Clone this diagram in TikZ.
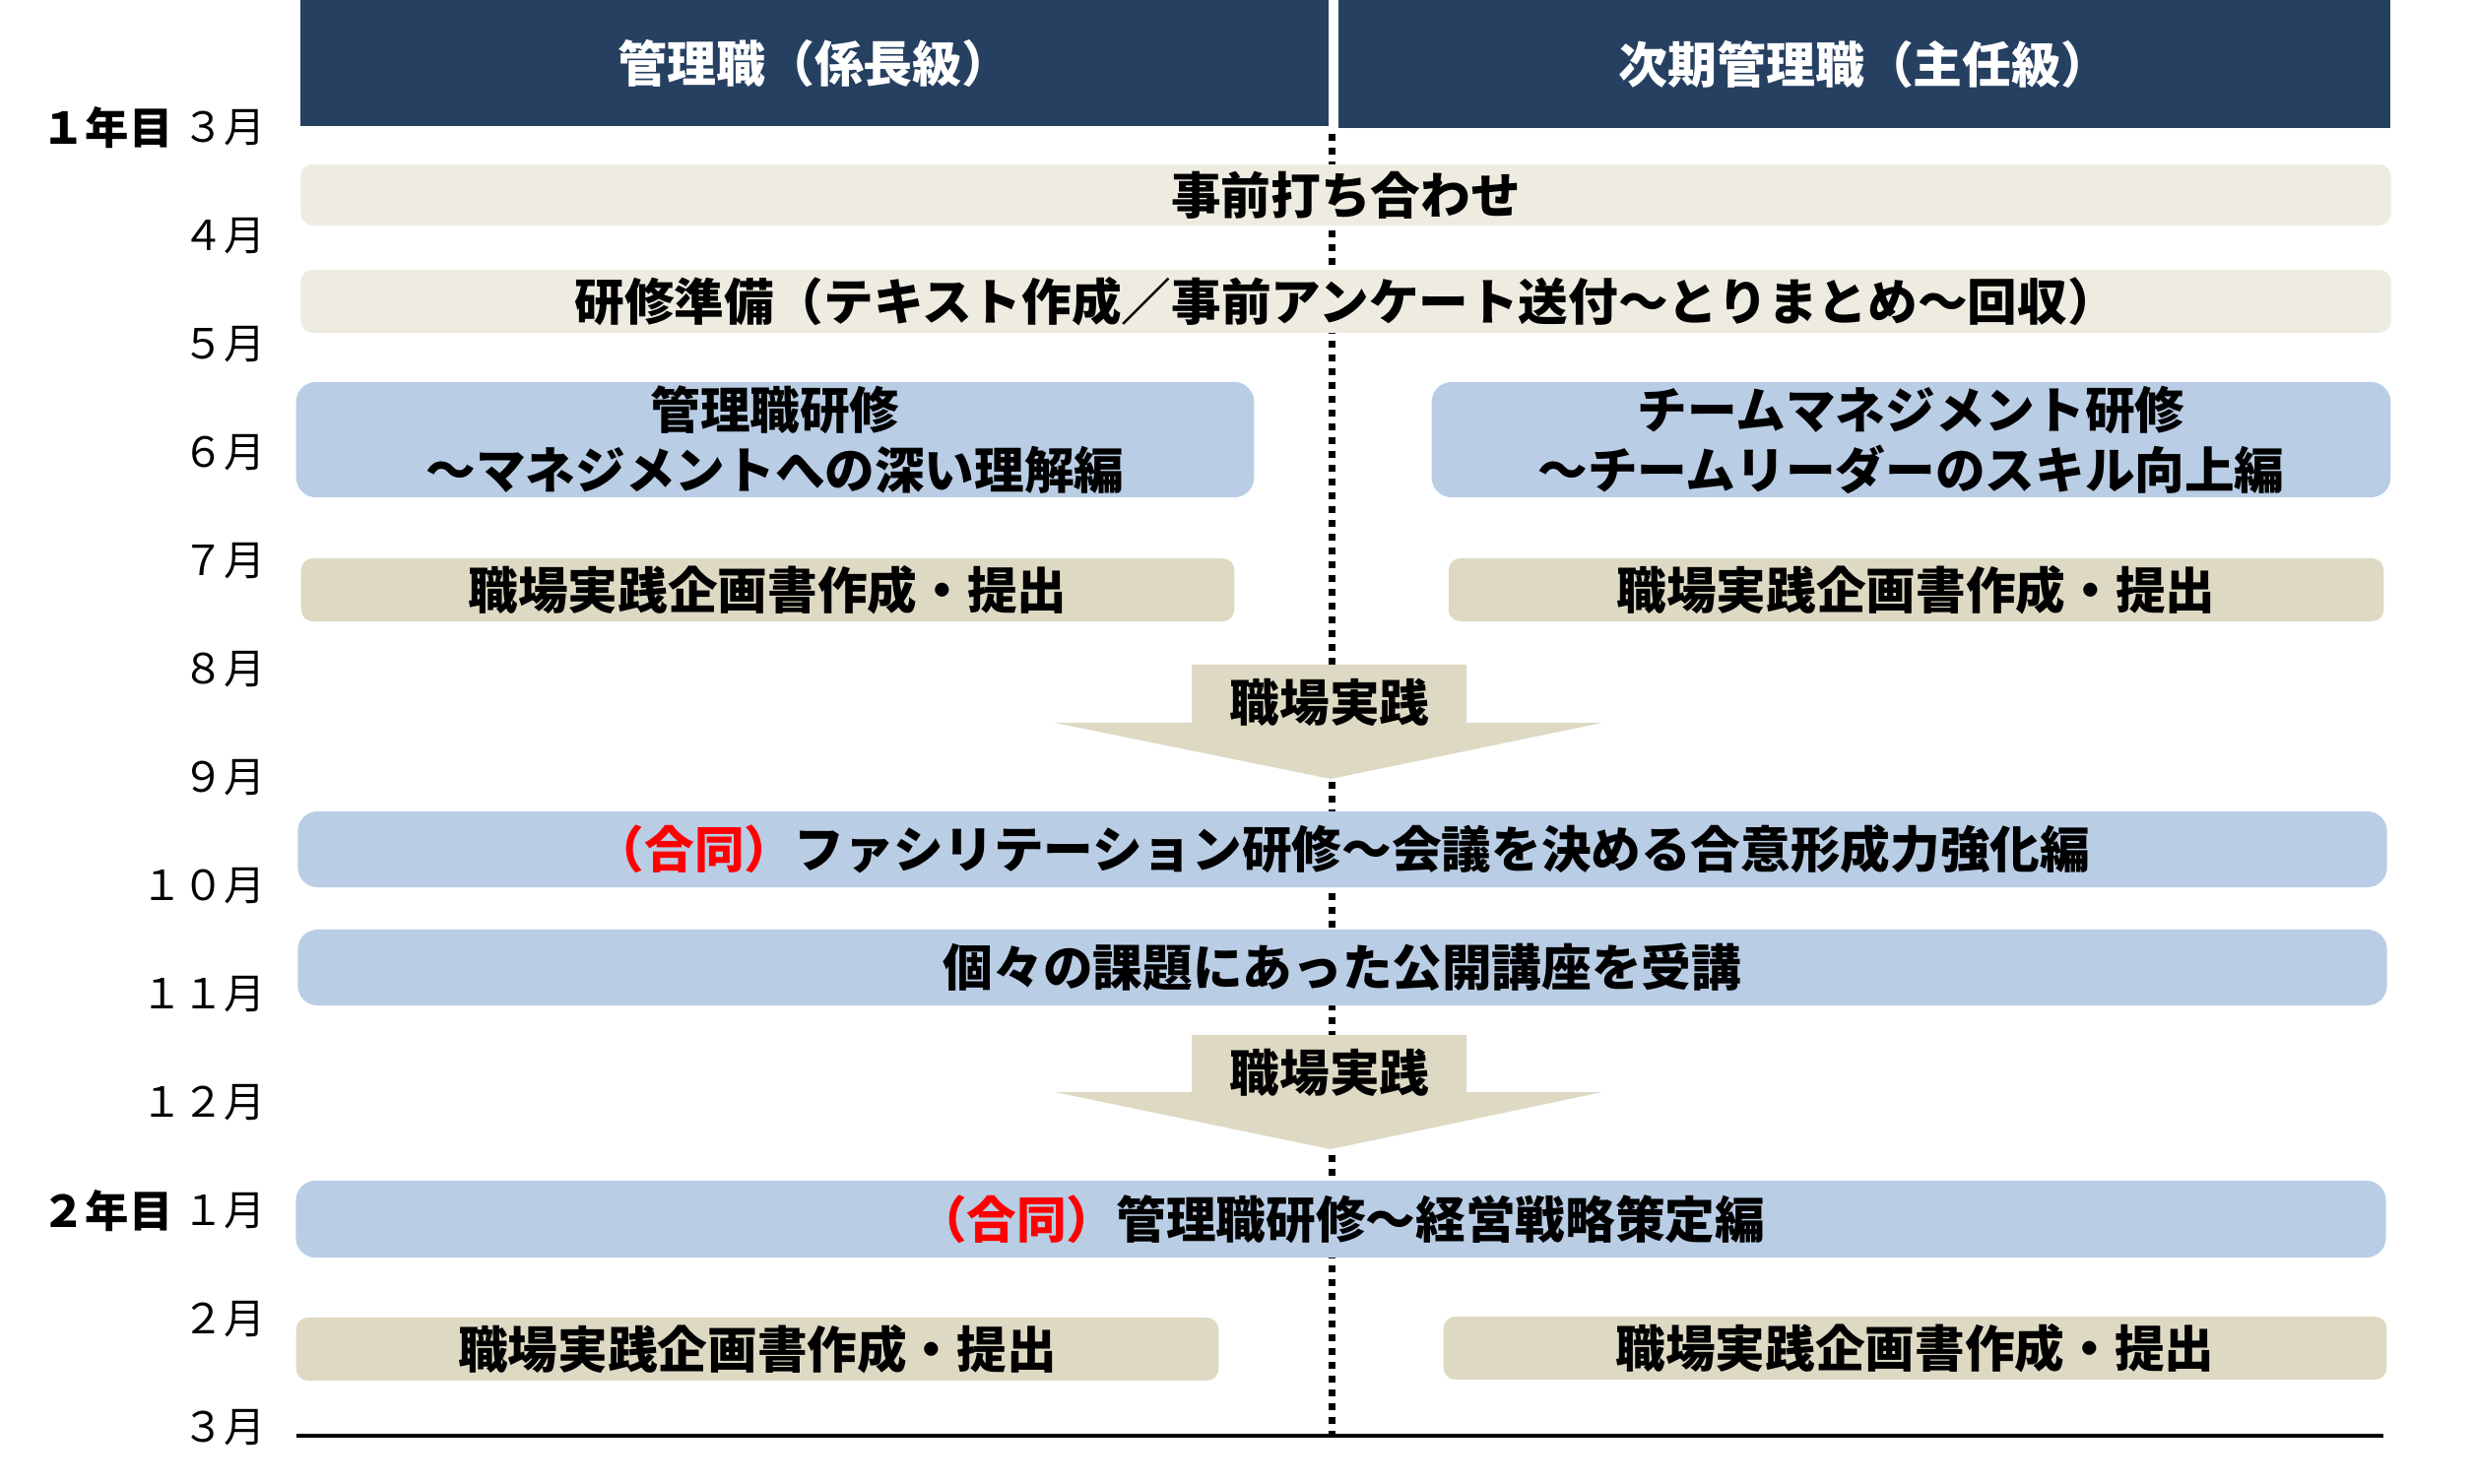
\documentclass[tikz,border=0pt]{standalone}
\usepackage{fontspec}
\setmainfont{Noto Sans CJK JP}
\definecolor{hdr}{HTML}{264061}
\definecolor{bgA}{HTML}{EEECE1}
\definecolor{tanC}{HTML}{DDD9C3}
\definecolor{blueC}{HTML}{B9CDE5}
\begin{document}
\begin{tikzpicture}[x=0.01cm,y=-0.01cm,
  every node/.style={inner sep=0pt, outer sep=0pt},
  bartxt/.style={font=\fontsize{14.4}{17.3}\selectfont\bfseries, text=black, align=center},
  hdrbox/.style={fill=hdr, text=white, font=\fontsize{14.2}{17}\selectfont\bfseries},
  lightbar/.style={bartxt, fill=bgA, rounded corners=0.12cm},
  tanbar/.style={bartxt, fill=tanC, rounded corners=0.12cm},
  bluebar/.style={bartxt, fill=blueC, rounded corners=0.2cm},
  monthtxt/.style={font=\fontsize{12}{14}\selectfont, anchor=east},
  yeartxt/.style={font=\fontsize{12.6}{14}\selectfont\bfseries, anchor=east},
  divider/.style={line width=0.07cm, dash pattern=on 0.07cm off 0.07cm},
  redtag/.style={text=red}
]
\useasboundingbox (0,0) rectangle (2513,1507);

% divider and bottom line
\coordinate (dtop) at (1352,136);
\coordinate (dbot) at (1352,1462);
\draw[divider] (dtop) -- (dbot);
\coordinate (bl) at (301,1458);
\coordinate (br) at (2420,1458);
\draw[line width=1pt] (bl) -- (br);

% headers
\node[hdrbox, minimum width=10.44cm, minimum height=1.28cm] (hL) at (827,64) {管理職（係長級）};
\node[hdrbox, minimum width=10.68cm, minimum height=1.30cm] (hR) at (1893,65) {次期管理職（主任級）};

% bars
\node[lightbar, minimum width=21.21cm, minimum height=0.62cm] (pre) at (1366.5,198) {事前打ち合わせ};
\node[lightbar, minimum width=21.21cm, minimum height=0.64cm] (prep) at (1366.5,306) {研修準備（テキスト作成／事前アンケート送付～とりまとめ～回収）};
\node[bluebar, minimum width=9.72cm, minimum height=1.17cm] (mgr) at (787,446.5) {管理職研修\\～マネジメントへの深い理解編};
\node[bluebar, minimum width=9.73cm, minimum height=1.17cm] (team) at (1940.5,446.5) {チームマネジメント研修\\～チームリーダーのスキル向上編};
\node[tanbar, minimum width=9.47cm, minimum height=0.64cm] (p1L) at (779.5,599) {職場実践企画書作成・提出};
\node[tanbar, minimum width=9.49cm, minimum height=0.64cm] (p1R) at (1945.5,599) {職場実践企画書作成・提出};

% arrow 1
\fill[tanC] (1210,675) -- (1489,675) -- (1489,734) -- (1627,734) -- (1351,791) -- (1071,734) -- (1210,734) -- cycle;
\node[bartxt] (a1) at (1350,713) {職場実践};

\node[bluebar, minimum width=21.2cm, minimum height=0.77cm] (fac) at (1363,862.5) {{\color{red}（合同）}ファシリテーション研修～会議を決める合意形成力強化編};
\node[bluebar, minimum width=21.2cm, minimum height=0.77cm] (ind) at (1363,982.5) {個々の課題にあった公開講座を受講};

% arrow 2
\fill[tanC] (1210,1051) -- (1489,1051) -- (1489,1109) -- (1627,1109) -- (1351,1167) -- (1071,1109) -- (1210,1109) -- cycle;
\node[bartxt] (a2) at (1350,1089) {職場実践};

\node[bluebar, minimum width=21.21cm, minimum height=0.78cm] (jt) at (1361.5,1238) {{\color{red}（合同）}管理職研修～経営戦略策定編};
\node[tanbar, minimum width=9.36cm, minimum height=0.64cm] (p2L) at (769,1370) {職場実践企画書作成・提出};
\node[tanbar, minimum width=9.57cm, minimum height=0.64cm] (p2R) at (1944.5,1369) {職場実践企画書作成・提出};

% months
\node[monthtxt] (m1) at (270,130) {３月};
\node[yeartxt] (y1) at ([xshift=-0.1cm]m1.west) {１年目};
\node[monthtxt] (m2) at (270,240) {４月};
\node[monthtxt] (m3) at (270,350) {５月};
\node[monthtxt] (m4) at (270,460) {６月};
\node[monthtxt] (m5) at (270,570) {７月};
\node[monthtxt] (m6) at (270,680) {８月};
\node[monthtxt] (m7) at (270,790) {９月};
\node[monthtxt] (m8) at (270,900) {１０月};
\node[monthtxt] (m9) at (270,1010) {１１月};
\node[monthtxt] (m10) at (270,1120) {１２月};
\node[monthtxt] (m11) at (270,1230) {１月};
\node[yeartxt] (y2) at ([xshift=-0.1cm]m11.west) {２年目};
\node[monthtxt] (m12) at (270,1340) {２月};
\node[monthtxt] (m13) at (270,1450) {３月};
\end{tikzpicture}
\end{document}
